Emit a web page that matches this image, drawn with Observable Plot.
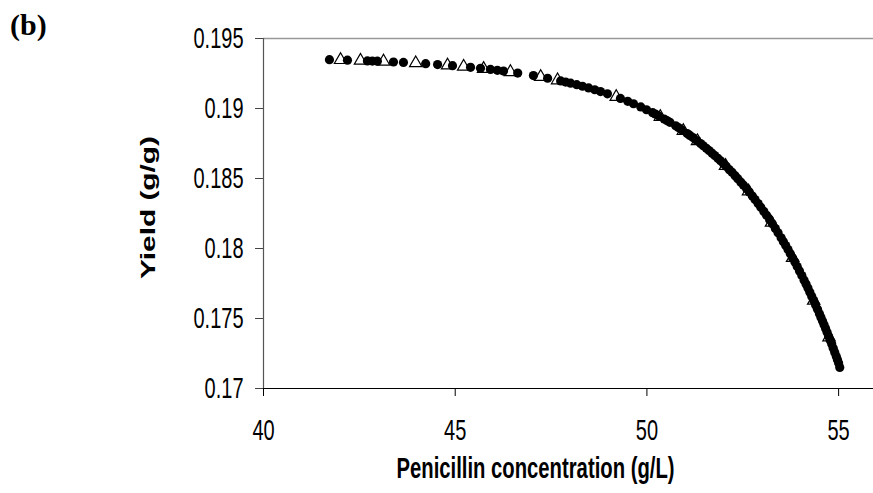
<!DOCTYPE html>
<html><head>
<meta charset="utf-8">
<script src="https://cdn.jsdelivr.net/npm/d3@7"></script>
<script src="https://cdn.jsdelivr.net/npm/@observablehq/plot@0.6"></script>
<style>
body{margin:0;background:#fff}
#c{position:relative;width:873px;height:493px}
#lab{position:absolute;left:10px;top:8px;z-index:2;font-family:"Liberation Serif","Times New Roman",serif;font-weight:bold;font-size:30px;line-height:34px;color:#000}
</style>
</head><body>
<div id="c"><div id="lab">(b)</div></div>
<script>
// Series 1: filled circles
const circleX = [41.72,42.19,42.71,42.84,42.97,43.39,43.65,44.23,44.54,44.93,45.40,45.66,45.92,46.10,46.26,46.63,47.04,47.41,47.75,47.88,48.01,48.17,48.32,48.48,48.64,48.79,48.97,49.31,49.50,49.65,49.84,49.99,50.15,50.30,50.45,50.60,50.75,50.90,51.05,51.20,51.40,51.55,51.70,51.85,52.00,52.15,52.30,52.45,52.60,52.75,52.90,53.05,53.20,53.35,53.50,53.62,53.74,53.86,53.98,54.10,54.20,54.30,54.40,54.50,54.58,54.66,54.74,54.82,54.90,54.97,55.03,
  50.22,50.52,50.82,51.12,51.30,51.47,51.62,51.77,51.92,52.07,52.22,52.37,52.52,52.67,52.82,52.97,53.12,53.27,53.42,53.56,53.68,53.80,53.92,54.04,54.15,54.25,54.35,54.45,54.54,54.62,54.70,54.78,54.86,54.94,55.00];
const circleY = [0.19349,0.19345,0.19340,0.19339,0.19338,0.19332,0.19329,0.19320,0.19314,0.19306,0.19294,0.19287,0.19279,0.19273,0.19267,0.19253,0.19235,0.19216,0.19197,0.19189,0.19181,0.19170,0.19159,0.19147,0.19134,0.19121,0.19105,0.19072,0.19051,0.19034,0.19011,0.18991,0.18970,0.18948,0.18925,0.18901,0.18876,0.18849,0.18821,0.18792,0.18750,0.18716,0.18681,0.18644,0.18605,0.18563,0.18520,0.18474,0.18426,0.18375,0.18321,0.18265,0.18205,0.18143,0.18076,0.18021,0.17963,0.17903,0.17840,0.17774,0.17717,0.17658,0.17597,0.17534,0.17482,0.17429,0.17373,0.17317,0.17258,0.17206,0.17150,
  0.18960,0.18914,0.18864,0.18808,0.18771,0.18734,0.18700,0.18664,0.18626,0.18586,0.18544,0.18499,0.18452,0.18403,0.18350,0.18295,0.18237,0.18176,0.18112,0.18049,0.17992,0.17933,0.17871,0.17807,0.17746,0.17688,0.17628,0.17566,0.17508,0.17456,0.17401,0.17345,0.17288,0.17229,0.17183];
// Series 2: open triangles
const triX = [42.01,42.53,43.13,43.97,44.80,45.22,45.74,46.44,47.23,47.67,49.20,50.35,50.95,51.32,52.05,52.65,53.25,53.80,54.35,54.75];
const triY = [0.19347,0.19342,0.19336,0.19324,0.19308,0.19299,0.19284,0.19261,0.19226,0.19202,0.19083,0.18940,0.18840,0.18767,0.18591,0.18409,0.18185,0.17933,0.17628,0.17366];
const xTicks = [40,45,50,55];
const yTicks = [0.17,0.175,0.18,0.185,0.19,0.195];
const xTitle = "Penicillin concentration (g/L)";
const yTitle = "Yield (g/g)";

const circles = circleX.map((x,i)=>({x, y:circleY[i]}));
const tris = triX.map((x,i)=>({x, y:triY[i]}));

const chart = Plot.plot({
  width: 873, height: 493,
  marginLeft: 263, marginRight: 0, marginTop: 38, marginBottom: 105,
  style: {fontFamily: "'Liberation Sans', Arial, sans-serif", fontSize: "20px", background: "#fff", color: "#000"},
  x: {domain: [40, 55.91]},
  y: {domain: [0.17, 0.195]},
  marks: [
    Plot.ruleY([0.195], {stroke: "#999", strokeWidth: 1.5}),
    Plot.axisX({ticks: xTicks, tickSize: 8, tickPadding: 23, label: null, stroke: "#000", fontSize: 20}),
    Plot.axisY({ticks: yTicks, tickSize: 8, tickPadding: 12, tickFormat: d => String(d), label: null, stroke: "#444", fontSize: 20}),
    Plot.ruleX([40], {stroke: "#555", strokeWidth: 1.2}),
    Plot.ruleY([0.17], {stroke: "#000", strokeWidth: 1.2}),
    Plot.dot(tris, {x: "x", y: "y", symbol: "triangle", r: 4.6, fill: "white", stroke: "black", strokeWidth: 1.2}),
    Plot.dot(circles, {x: "x", y: "y", r: 4.6, fill: "black", stroke: "none"}),
    Plot.text([xTitle], {frameAnchor: "bottom", textAnchor: "middle", dx: -33, dy: 89, fontWeight: "bold", fontSize: 20.5, fill: "#000"}),
    Plot.text([yTitle], {frameAnchor: "left", textAnchor: "middle", lineAnchor: "middle", rotate: -90, dx: -115, dy: -6, fontWeight: "bold", fontSize: 21, fill: "#000"})
  ]
});
// the reference's lettering is stretched vertically
d3.select(chart).selectAll("text").each(function() {
  const txt = this.textContent;
  if (txt === yTitle) {
    this.setAttribute("textLength", 143);
    this.setAttribute("lengthAdjust", "spacingAndGlyphs");
    return;
  }
  if (txt === xTitle) {
    this.setAttribute("textLength", 278);
    this.setAttribute("lengthAdjust", "spacingAndGlyphs");
  }
  const t = this.getAttribute("transform") || "";
  this.setAttribute("transform", t + " scale(1,1.45)");
});
document.getElementById("c").appendChild(chart);
chart.style.position = "absolute";
chart.style.left = "0";
chart.style.top = "0";
</script>
</body></html>
